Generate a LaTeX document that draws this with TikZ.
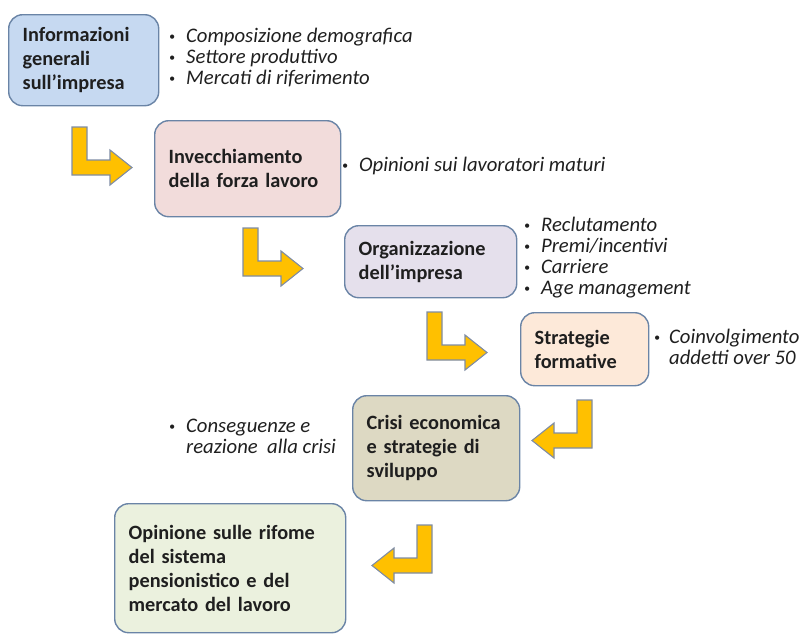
\documentclass[tikz,border=0pt]{standalone}
\usepackage{fontspec}
\setmainfont{Carlito}
\usepackage{tikz}
\usetikzlibrary{positioning}

\definecolor{boxline}{HTML}{6A84A6}
\definecolor{arrline}{HTML}{7E8CA4}
\definecolor{arrfill}{HTML}{FFC000}
\definecolor{infofill}{HTML}{C6D9F1}
\definecolor{agefill}{HTML}{F2DCDB}
\definecolor{orgfill}{HTML}{E5E0EC}
\definecolor{stratfill}{HTML}{FDE9D9}
\definecolor{crisisfill}{HTML}{DDD9C3}
\definecolor{reformfill}{HTML}{EBF1DE}

\newcommand{\bl}{\raisebox{2pt}{\large\textbullet}}

\tikzset{
  stage/.style={draw=boxline, line width=1.4pt, rounded corners=14pt, anchor=north west,
    align=left, inner xsep=14pt, font=\fontsize{20.3}{24}\selectfont\bfseries, text=black!88},
  notes/.style={anchor=north west, inner sep=0pt, font=\fontsize{20.7}{21}\selectfont\itshape, text=black!88},
  larrow/.pic={
    \draw[draw=arrline, fill=arrfill, line width=1.1pt, line join=miter]
      (0,0) -- (15,0) -- (15,33) -- (38,33) -- (38,23) -- (60,40.5)
      -- (38,58) -- (38,48) -- (0,48) -- cycle;
  }
}

\begin{document}
\begin{tikzpicture}[x=1pt, y=-1pt]
\useasboundingbox (0,0) rectangle (810,633);

\node[stage, fill=infofill, minimum width=150pt, minimum height=91pt, text width=122pt] (info) at (8,14)
  {Informazioni\\generali\\sull’impresa};
\node[stage, fill=agefill, minimum width=186pt, minimum height=96pt, text width=158pt] (aging) at (154,120)
  {Invecchiamento\\della forza lavoro};
\node[stage, fill=orgfill, minimum width=172pt, minimum height=72pt, text width=144pt] (org) at (344,225)
  {Organizzazione\\dell’impresa};
\node[stage, fill=stratfill, minimum width=128pt, minimum height=73pt, text width=100pt] (strat) at (520,312)
  {Strategie\\formative};
\node[stage, fill=crisisfill, minimum width=167pt, minimum height=105pt, text width=139pt] (crisis) at (352,395)
  {Crisi economica\\e strategie di\\sviluppo};
\node[stage, fill=reformfill, minimum width=231pt, minimum height=129pt, text width=203pt] (reform) at (114,503)
  {Opinione sulle rifome\\del sistema\\pensionistico e del\\mercato del lavoro};

\node[notes] (infonotes) at (169,28) {\begin{tabular}{@{}l@{\hspace{11pt}}l@{}}
  \bl & Composizione demografica\\ \bl & Settore produttivo\\ \bl & Mercati di riferimento\end{tabular}};
\node[notes] (agingnotes) at (342,157) {\begin{tabular}{@{}l@{\hspace{11pt}}l@{}}
  \bl & Opinioni sui lavoratori maturi\end{tabular}};
\node[notes] (orgnotes) at (524,217) {\begin{tabular}{@{}l@{\hspace{11pt}}l@{}}
  \bl & Reclutamento\\ \bl & Premi/incentivi\\ \bl & Carriere\\ \bl & Age management\end{tabular}};
\node[notes] (stratnotes) at (654,329) {\begin{tabular}{@{}l@{\hspace{9pt}}l@{}}
  \bl & Coinvolgimento\\ & addetti over 50\end{tabular}};
\node[notes] (crisisnotes) at (169,418) {\begin{tabular}{@{}l@{\hspace{11pt}}l@{}}
  \bl & Conseguenze e\\ & reazione\ \ alla crisi\end{tabular}};

\pic at (72,127) {larrow};
\pic at (243,228) {larrow};
\pic at (427,312) {larrow};
\pic[xscale=-1] at (592,400) {larrow};
\pic[xscale=-1] at (432,525) {larrow};
\end{tikzpicture}
\end{document}
